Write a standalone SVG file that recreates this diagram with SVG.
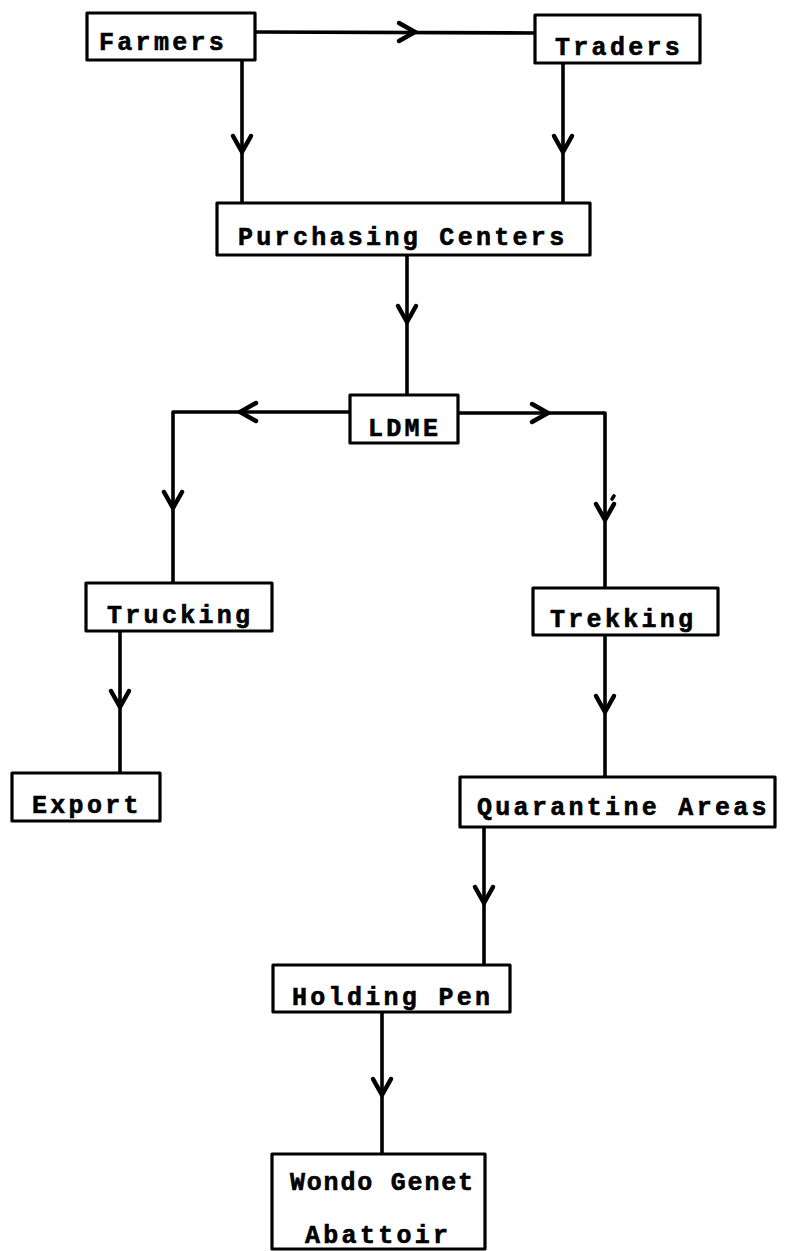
<svg xmlns="http://www.w3.org/2000/svg" width="790" height="1251" viewBox="0 0 790 1251">
  <style>
    .box { fill: #ffffff; stroke: #000000; stroke-width: 3.2; stroke-linejoin: round; }
    .lbl { font-family: "Liberation Mono", "DejaVu Sans Mono", monospace; font-weight: bold; font-size: 25px; letter-spacing: 3.3px; fill: #000000; stroke: #000000; stroke-width: 0.6; }
    .tight { letter-spacing: 1.8px; }
    .wire { fill: none; stroke: #000000; stroke-width: 3.6; stroke-linecap: round; stroke-linejoin: round; }
    .head { fill: none; stroke: #000000; stroke-width: 4.5; stroke-linecap: round; stroke-linejoin: miter; }
  </style>
  <defs>
    <!-- open chevron arrowhead, tip at the origin, pointing along +x -->
    <path id="chev" class="head" d="M-16,-9 L0,0 L-16,9"/>
  </defs>
  <rect width="790" height="1251" fill="#ffffff"/>

  <g id="connectors">
    <path class="wire" d="M255,32 L535,33"/>
    <path class="wire" d="M242,60 L242,203"/>
    <path class="wire" d="M563,63 L563,203"/>
    <path class="wire" d="M407,255 L407,395"/>
    <path class="wire" d="M350,412 L173,412 L173,583"/>
    <path class="wire" d="M458,413 L605,413 L605,588"/>
    <path class="wire" d="M120,631 L120,773"/>
    <path class="wire" d="M605,635 L605,777"/>
    <path class="wire" d="M484,827 L484,965"/>
    <path class="wire" d="M382,1012 L382,1154"/>
    <path class="wire" d="M612,499 L614,496"/>
    <use href="#chev" transform="translate(415,32)"/>
    <use href="#chev" transform="translate(242,152) rotate(90)"/>
    <use href="#chev" transform="translate(563,152) rotate(90)"/>
    <use href="#chev" transform="translate(407,322) rotate(90)"/>
    <use href="#chev" transform="translate(240,412) rotate(180)"/>
    <use href="#chev" transform="translate(548,413)"/>
    <use href="#chev" transform="translate(173,508) rotate(90)"/>
    <use href="#chev" transform="translate(605,520) rotate(90)"/>
    <use href="#chev" transform="translate(120,707) rotate(90)"/>
    <use href="#chev" transform="translate(605,712) rotate(90)"/>
    <use href="#chev" transform="translate(484,903) rotate(90)"/>
    <use href="#chev" transform="translate(382,1095) rotate(90)"/>
  </g>

  <g id="farmers">
    <rect class="box" x="87" y="13" width="168" height="47"/>
    <text class="lbl" x="99" y="50">Farmers</text>
  </g>
  <g id="traders">
    <rect class="box" x="535" y="15" width="165" height="48"/>
    <text class="lbl" x="555" y="55">Traders</text>
  </g>
  <g id="purchasing-centers">
    <rect class="box" x="217" y="203" width="373" height="52"/>
    <text class="lbl" x="238" y="245">Purchasing Centers</text>
  </g>
  <g id="ldme">
    <rect class="box" x="350" y="395" width="108" height="48"/>
    <text class="lbl" x="368" y="436">LDME</text>
  </g>
  <g id="trucking">
    <rect class="box" x="86" y="583" width="186" height="48"/>
    <text class="lbl" x="107" y="623">Trucking</text>
  </g>
  <g id="trekking">
    <rect class="box" x="533" y="588" width="185" height="47"/>
    <text class="lbl" x="550" y="627">Trekking</text>
  </g>
  <g id="export">
    <rect class="box" x="12" y="773" width="148" height="48"/>
    <text class="lbl" x="32" y="813">Export</text>
  </g>
  <g id="quarantine-areas">
    <rect class="box" x="460" y="777" width="315" height="50"/>
    <text class="lbl" x="477" y="815">Quarantine Areas</text>
  </g>
  <g id="holding-pen">
    <rect class="box" x="273" y="965" width="237" height="47"/>
    <text class="lbl" x="292" y="1005">Holding Pen</text>
  </g>
  <g id="wondo-genet-abattoir">
    <rect class="box" x="272" y="1154" width="213" height="95"/>
    <text class="lbl tight" x="290" y="1190">Wondo Genet</text>
    <text class="lbl" x="305" y="1243">Abattoir</text>
  </g>
</svg>
